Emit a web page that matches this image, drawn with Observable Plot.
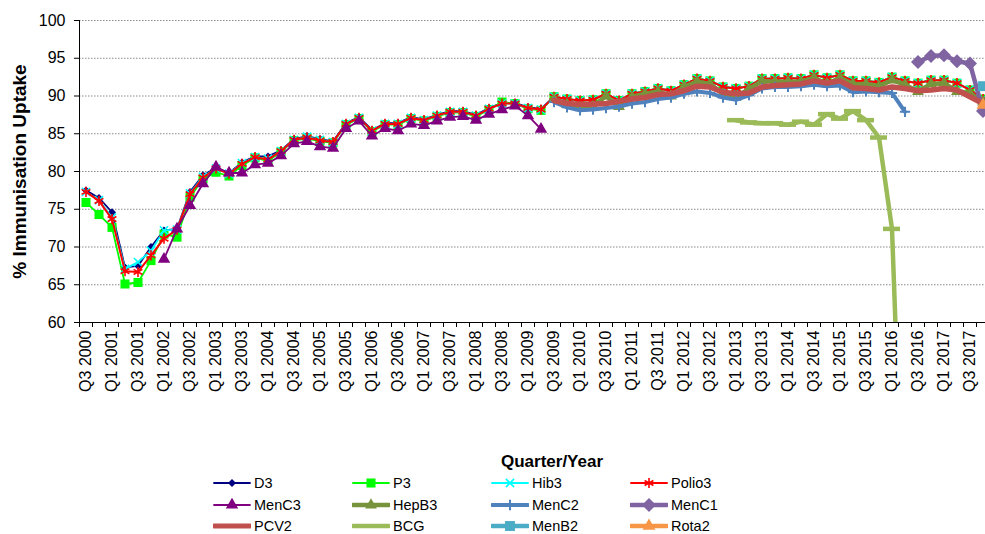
<!DOCTYPE html>
<html><head><meta charset="utf-8">
<script src="https://cdn.jsdelivr.net/npm/d3@7"></script>
<script src="https://cdn.jsdelivr.net/npm/@observablehq/plot@0.6"></script>
<style>
body{margin:0;background:#fff;font-family:"Liberation Sans",Arial,sans-serif;}
#wrap{position:relative;width:985px;height:534px;overflow:hidden;background:#fff}
#wrap svg.plot{position:absolute;left:0;top:0}
.xt{position:absolute;font-weight:bold;font-size:17px;color:#000;white-space:nowrap;transform:translate(-50%,-50%)}
.li{position:absolute;display:flex;align-items:center;font-size:14.5px;color:#000;white-space:nowrap;transform:translateY(-50%)}
.li svg{margin-right:3px}
</style></head><body><div id="wrap"></div>
<script>
// ---- data ----
const quarters = ["Q3 2000","Q4 2000","Q1 2001","Q2 2001","Q3 2001","Q4 2001","Q1 2002","Q2 2002","Q3 2002","Q4 2002",
"Q1 2003","Q2 2003","Q3 2003","Q4 2003","Q1 2004","Q2 2004","Q3 2004","Q4 2004","Q1 2005","Q2 2005",
"Q3 2005","Q4 2005","Q1 2006","Q2 2006","Q3 2006","Q4 2006","Q1 2007","Q2 2007","Q3 2007","Q4 2007",
"Q1 2008","Q2 2008","Q3 2008","Q4 2008","Q1 2009","Q2 2009","Q3 2009","Q4 2009","Q1 2010","Q2 2010",
"Q3 2010","Q4 2010","Q1 2011","Q2 2011","Q3 2011","Q4 2011","Q1 2012","Q2 2012","Q3 2012","Q4 2012",
"Q1 2013","Q2 2013","Q3 2013","Q4 2013","Q1 2014","Q2 2014","Q3 2014","Q4 2014","Q1 2015","Q2 2015",
"Q3 2015","Q4 2015","Q1 2016","Q2 2016","Q3 2016","Q4 2016","Q1 2017","Q2 2017","Q3 2017","Q4 2017"];
const tickLabels = ["Q3 2000","Q1 2001","Q3 2001","Q1 2002","Q3 2002","Q1 2003","Q3 2003","Q1 2004","Q3 2004","Q1 2005",
"Q3 2005","Q1 2006","Q3 2006","Q1 2007","Q3 2007","Q1 2008","Q3 2008","Q1 2009","Q3 2009","Q1 2010",
"Q3 2010","Q1 2011","Q3 2011","Q1 2012","Q3 2012","Q1 2013","Q3 2013","Q1 2014","Q3 2014","Q1 2015",
"Q3 2015","Q1 2016","Q3 2016","Q1 2017","Q3 2017"];
const yTicks = [60,65,70,75,80,85,90,95,100];
const seriesNames = ["D3","P3","Hib3","Polio3","MenC3","HepB3","MenC2","MenC1","PCV2","BCG","MenB2","Rota2"];
const seriesStart = {D3:"Q3 2000",P3:"Q3 2000",Hib3:"Q3 2000",Polio3:"Q3 2000",MenC3:"Q1 2002",HepB3:"Q3 2009",
  MenC2:"Q3 2009",MenC1:"Q3 2016",PCV2:"Q3 2009",BCG:"Q1 2013",MenB2:"Q4 2017",Rota2:"Q4 2017"};

const D3v = [77.5,76.5,74.6,67.3,67.5,70.0,72.2,72.4,77.3,79.5,80.5,79.8,81.2,82.0,82.0,82.8,84.3,84.7,84.3,84.0,
86.4,87.2,85.5,86.4,86.4,87.2,86.9,87.5,88.0,88.0,87.5,88.4,89.1,89.1,88.5,88.3,
89.9,89.6,89.4,89.5,90.3,89.4,90.3,90.6,91.0,90.7,91.5,92.3,92.0,91.2,91.0,91.3,92.3,92.3,92.4,92.3,
92.8,92.4,92.8,92.0,92.0,91.8,92.5,92.0,91.7,92.1,92.1,91.7,90.8,89.6];
const P3v = [75.9,74.3,72.6,65.1,65.3,68.2,71.7,71.3,76.6,79.0,79.9,79.4,80.8,81.8,81.4,82.6,84.1,84.4,84.0,83.8,
86.2,87.0,85.3,86.2,86.2,87.0,86.7,87.3,87.8,87.8,87.3,88.2,89.2,89.0,88.3,88.1,
89.9,89.6,89.4,89.5,90.3,89.4,90.3,90.6,91.0,90.7,91.5,92.3,92.0,91.2,91.0,91.3,92.3,92.3,92.4,92.3,
92.8,92.4,92.8,92.0,92.0,91.8,92.5,92.0,91.7,92.1,92.1,91.7,90.8,89.6];
const Hib3v = [77.3,76.2,73.9,67.1,68.0,69.5,72.2,72.3,77.1,79.3,80.4,79.7,81.1,81.9,81.7,82.7,84.2,84.6,84.2,83.9,
86.3,87.1,85.4,86.3,86.3,87.1,86.8,87.4,87.9,87.9,87.4,88.3,89.0,89.0,88.4,88.2,
89.9,89.6,89.4,89.5,90.3,89.4,90.3,90.6,91.0,90.7,91.5,92.3,92.0,91.2,91.0,91.3,92.3,92.3,92.4,92.3,
92.8,92.4,92.8,92.0,92.0,91.8,92.5,92.0,91.7,92.1,92.1,91.7,90.8,89.6];
const Polio3v = [77.3,76.1,73.7,66.8,66.7,68.9,71.1,72.3,77.0,79.2,80.4,79.7,81.0,81.9,81.6,82.7,84.2,84.5,84.1,83.9,
86.3,87.1,85.4,86.3,86.3,87.1,86.8,87.4,87.9,87.9,87.4,88.3,89.0,89.0,88.4,88.2,
89.9,89.6,89.4,89.5,90.3,89.4,90.3,90.6,91.0,90.7,91.5,92.3,92.0,91.2,91.0,91.3,92.3,92.3,92.4,92.3,
92.8,92.4,92.8,92.0,92.0,91.8,92.5,92.0,91.7,92.1,92.1,91.7,90.8,89.6];
const MenC3v = [68.4,72.4,75.5,78.4,80.6,79.8,79.8,80.9,81.1,82.1,83.7,84.0,83.3,83.1,85.7,86.7,84.7,85.7,85.4,86.3,
86.1,86.7,87.2,87.3,86.8,87.6,88.2,88.7,87.4,85.6];
const HepB3v = [89.6,88.9,88.5,88.6,90.0,88.6,89.9,90.3,90.6,90.0,91.2,91.9,91.6,90.3,89.9,90.9,92.0,91.9,91.9,91.9,
92.4,91.6,92.4,91.6,91.6,91.3,92.1,91.5,90.6,91.6,91.7,90.6,90.4,89.2];
const MenC2v = [89.2,88.5,88.1,88.2,88.4,88.6,89.0,89.2,89.6,89.8,90.3,90.6,90.4,89.8,89.5,90.1,91.0,91.2,91.2,91.3,
91.5,91.3,91.4,90.5,90.6,90.5,90.4,87.9];
const MenC1v = [94.5,95.3,95.4,94.6,94.3,88.0];
const PCV2v = [89.4,89.0,88.9,88.9,89.0,89.3,89.6,89.8,90.2,90.3,90.7,91.3,91.2,90.5,90.3,90.4,91.2,91.4,91.5,91.6,
92.0,91.7,92.0,91.1,91.0,90.8,91.2,91.0,90.7,90.8,91.0,90.8,89.9,89.0];
const BCGv = [86.8,86.5,86.4,86.4,86.2,86.6,86.2,87.6,87.0,88.0,86.8,84.5,72.4,25.0];
const MenB2v = [91.3];
const Rota2v = [88.8];
const seriesValues = {D3:D3v,P3:P3v,Hib3:Hib3v,Polio3:Polio3v,MenC3:MenC3v,HepB3:HepB3v,MenC2:MenC2v,
  MenC1:MenC1v,PCV2:PCV2v,BCG:BCGv,MenB2:MenB2v,Rota2:Rota2v};

// ---- styles ----
const styles = {
  D3:{color:"#000080",w:1.8,sym:"diamond2",r:3.6,mode:"fill"},
  P3:{color:"#00FF00",w:1.8,sym:"square",r:5.1,mode:"fill"},
  Hib3:{color:"#00FFFF",w:1.8,sym:"times",r:3.8,mode:"stroke",sw:1.6},
  Polio3:{color:"#FF0000",w:2,sym:"asterisk",r:4.8,mode:"stroke",sw:1.6},
  MenC3:{color:"#800080",w:1.8,sym:"triangle",r:4.6,mode:"fill"},
  HepB3:{color:"#77933C",w:4.5,sym:"triangle",r:4.4,mode:"fill"},
  MenC2:{color:"#4F81BD",w:4,sym:"plus",r:3.4,mode:"stroke",sw:2},
  MenC1:{color:"#8064A2",w:4.5,sym:"diamond2",r:6.3,mode:"fill"},
  PCV2:{color:"#C0504D",w:5.5,sym:null},
  BCG:{color:"#9BBB59",w:4.5,sym:"dash"},
  MenB2:{color:"#4BACC6",w:4.5,sym:"square",r:5.6,mode:"fill"},
  Rota2:{color:"#F79646",w:4.5,sym:"triangle",r:4.8,mode:"fill"}
};

const rows = [];
for (const name of seriesNames) {
  const s = quarters.indexOf(seriesStart[name]);
  seriesValues[name].forEach((v,k) => rows.push({series:name, q:quarters[s+k], v}));
}

const marks = [
  Plot.ruleY(yTicks.filter(t => t > 60), {stroke:"#8a8a8a", strokeWidth:1, strokeDasharray:"1.5,1.5"})
];
for (const name of seriesNames) {
  const st = styles[name];
  const data = rows.filter(r => r.series === name);
  marks.push(Plot.line(data, {x:"q", y:"v", stroke:st.color, strokeWidth:st.w, strokeLinejoin:"round", clip:true}));
  if (st.sym === "dash") {
    marks.push(Plot.tickY(data, {x:"q", y:"v", stroke:st.color, strokeWidth:4.5, insetLeft:-2, insetRight:-2, clip:true}));
  } else if (st.sym) {
    if (st.mode === "fill") marks.push(Plot.dot(data, {x:"q", y:"v", symbol:st.sym, r:st.r, fill:st.color, stroke:null}));
    else marks.push(Plot.dot(data, {x:"q", y:"v", symbol:st.sym, r:st.r, stroke:st.color, strokeWidth:st.sw, fill:"none"}));
  }
}
marks.push(
  Plot.ruleY([60], {stroke:"#000", strokeWidth:1}),
  Plot.ruleX([quarters[0]], {dx:-6.5, stroke:"#000", strokeWidth:1}),
  Plot.axisY({ticks:yTicks, tickSize:5, tickPadding:9, fontSize:16, label:null}),
  Plot.axisX({ticks:quarters, tickSize:5, tickFormat:() => "", dx:-6.5, label:null}),
  Plot.axisX({ticks:tickLabels, tickSize:0, tickRotate:-90, tickPadding:8, fontSize:16, label:null}),
  Plot.text(["% Immunisation Uptake"], {frameAnchor:"left", dx:-60, rotate:-90, fontWeight:"bold", fontSize:19, textAnchor:"middle", lineAnchor:"middle", fill:"#000"})
);

const chart = Plot.plot({
  width:985, height:450,
  marginLeft:79, marginRight:-4, marginTop:20, marginBottom:128,
  style:{fontFamily:"'Liberation Sans', Arial, sans-serif", fontSize:"16px", color:"#000", background:"transparent", overflow:"visible"},
  x:{type:"band", domain:quarters, padding:0},
  y:{domain:[60,100]},
  marks
});
const wrap = document.getElementById("wrap");
wrap.appendChild(chart);

// ---- x title and legend ----
const xt = document.createElement("div");
xt.className = "xt"; xt.textContent = "Quarter/Year";
xt.style.left = "552px"; xt.style.top = "462px";
wrap.appendChild(xt);

const symMap = {diamond2:d3.symbolDiamond2, square:d3.symbolSquare, times:d3.symbolTimes, asterisk:d3.symbolAsterisk,
  triangle:d3.symbolTriangle, plus:d3.symbolPlus};
seriesNames.forEach((name, i) => {
  const st = styles[name];
  const col = i % 4, row = Math.floor(i / 4);
  const item = document.createElement("div");
  item.className = "li";
  item.style.left = (213 + 139 * col) + "px";
  item.style.top = (483 + 21.5 * row) + "px";
  const svg = d3.create("svg").attr("width", 38).attr("height", 18);
  svg.append("line").attr("x1", 1).attr("x2", 37).attr("y1", 9).attr("y2", 9)
    .attr("stroke", st.color).attr("stroke-width", Math.min(st.w, 5)).attr("stroke-linecap", "round");
  if (st.sym && st.sym !== "dash") {
    const path = d3.symbol(symMap[st.sym], Math.PI * st.r * st.r)();
    const p = svg.append("path").attr("d", path).attr("transform", "translate(19,9)");
    if (st.mode === "fill") p.attr("fill", st.color);
    else p.attr("fill", "none").attr("stroke", st.color).attr("stroke-width", st.sw);
  }
  item.appendChild(svg.node());
  const t = document.createElement("span"); t.textContent = name;
  item.appendChild(t);
  wrap.appendChild(item);
});
</script></body></html>
